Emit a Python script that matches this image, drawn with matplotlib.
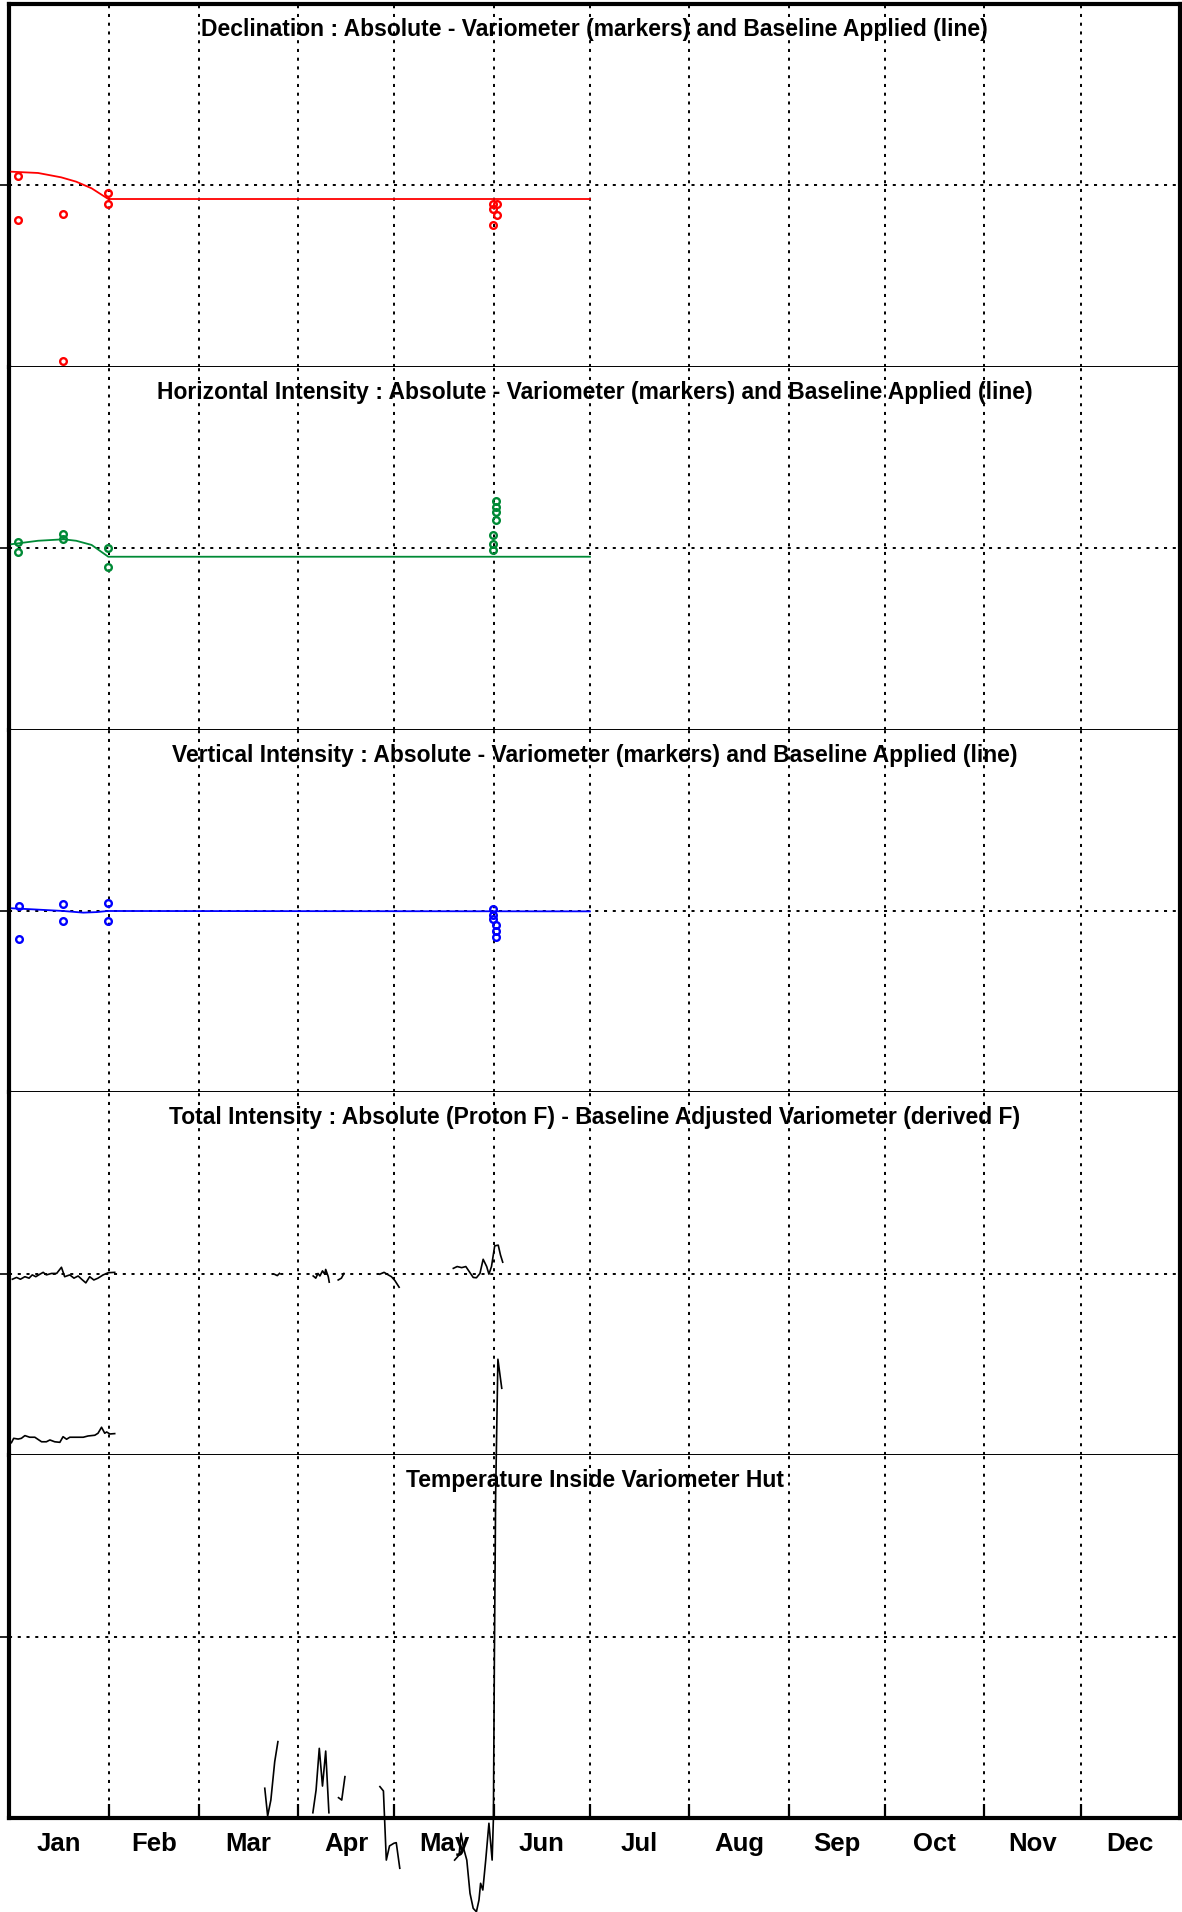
import matplotlib
matplotlib.use("Agg")
import numpy as np
import matplotlib.pyplot as plt

plt.rcParams["font.family"] = ["Liberation Sans", "DejaVu Sans"]
plt.rcParams["lines.scale_dashes"] = False

# ---------------- data (day of year, 0 = 1 Jan) ----------------
month_names = ["Jan", "Feb", "Mar", "Apr", "May", "Jun",
               "Jul", "Aug", "Sep", "Oct", "Nov", "Dec"]
month_starts = [0, 31, 59, 90, 120, 151, 181, 212, 243, 273, 304, 334, 365]

# Declination (arcmin): absolute - variometer, and baseline applied
decl_obs_day = [2.8, 2.8, 16.8, 16.8, 30.8, 30.8, 150.7, 151.9, 150.7, 151.9, 150.7]
decl_obs_val = [0.10, -0.38, -0.32, -1.94, -0.08, -0.20, -0.20, -0.20, -0.26, -0.33, -0.44]
decl_base_day = [0.6, 8.9, 16.1, 20.8, 25.6, 30.8, 181]
decl_base_val = [0.151, 0.137, 0.089, 0.041, -0.032, -0.150, -0.150]

# Horizontal intensity (nT)
hor_obs_day = [2.8, 2.8, 16.8, 16.8, 30.8, 30.8, 151.6, 151.6, 151.6, 151.6, 150.7, 150.7, 150.7]
hor_obs_val = [0.36, -0.19, 0.77, 0.49, 0.03, -1.02, 2.60, 2.26, 2.01, 1.56, 0.73, 0.22, -0.10]
hor_base_day = [0.6, 8.9, 16.8, 20.8, 25.6, 30.8, 181]
hor_base_val = [0.22, 0.41, 0.49, 0.41, 0.18, -0.47, -0.47]

# Vertical intensity (nT)
vert_obs_day = [3.0, 3.0, 16.8, 16.8, 30.6, 30.6, 150.7, 150.7, 150.7, 151.7, 151.7, 151.7]
vert_obs_val = [0.29, -1.56, 0.39, -0.54, 0.46, -0.54, 0.09, -0.22, -0.46, -0.77, -1.09, -1.42]
vert_base_day = [0.7, 7.4, 16.8, 23.0, 27.2, 30.6, 181]
vert_base_val = [0.15, 0.09, 0.0, -0.09, -0.06, 0.0, -0.02]

# Total intensity difference (nT), gaps as separate pieces
f_day = [
    [0.9, 2.2, 3.4, 4.8, 6.1, 7.1, 8.2, 9.5, 10.5, 11.5, 13.1, 14.7, 16.2, 17.2,
     18.8, 20.1, 21.4, 22.5, 23.8, 25.0, 26.3, 27.6, 29.2, 30.8, 32.8],
    [82.8, 83.5, 84.2],
    [94.7, 95.5, 96.2, 96.8, 97.6, 98.3, 98.6, 99.4, 99.7],
    [102.5, 103.5, 104.3],
    [115.5, 116.8, 118.1, 119.1, 120.2, 121.5],
    [138.4, 139.6, 141.0, 142.3, 143.6, 144.6, 145.6, 146.7, 147.7, 148.8,
     149.5, 150.3, 151.3, 152.4, 153.1, 153.8],
]
f_val = [
    [-0.15, -0.10, -0.15, -0.08, -0.12, -0.03, -0.08, -0.01, 0.04, -0.03, 0.01, 0.01,
     0.18, -0.08, -0.03, -0.12, -0.06, -0.15, -0.25, -0.08, -0.17, -0.12, -0.03, 0.03, 0.04],
    [-0.02, -0.05, 0.01],
    [-0.06, -0.12, 0.01, -0.06, 0.08, -0.01, 0.12, -0.08, -0.23],
    [-0.17, -0.12, 0.01],
    [-0.01, 0.04, -0.03, -0.08, -0.19, -0.37],
    [0.15, 0.20, 0.17, 0.20, 0.03, -0.10, -0.11, 0.01, 0.40, 0.20, -0.01, 0.20,
     0.77, 0.79, 0.52, 0.32],
]

# Temperature inside variometer hut (deg C)
t_day = [
    [0.6, 1.3, 2.7, 3.7, 4.8, 6.3, 7.9, 10.0, 11.5, 12.6, 14.1, 15.7, 16.7, 17.8,
     18.8, 20.9, 23.0, 24.5, 26.6, 27.6, 28.7, 29.7, 30.3, 31.3, 32.8],
    [79.6, 80.5, 81.5, 82.7, 83.7],
    [94.6, 95.6, 96.6, 97.6, 98.6, 99.6],
    [102.6, 103.6, 104.6],
    [115.5, 116.6, 117.5, 118.5, 119.9, 120.6, 121.7],
    [138.8, 140.2, 140.8, 141.6, 142.6, 143.6, 144.6, 145.6, 146.4, 146.9, 147.6,
     148.5, 149.5, 150.5, 150.9, 151.2, 151.6, 152.3, 153.5],
]
t_val = [
    [30.69, 30.93, 30.89, 30.93, 31.08, 30.99, 30.99, 30.74, 30.74, 30.84, 30.74, 30.71,
     31.02, 30.88, 30.99, 30.99, 30.99, 31.06, 31.10, 31.21, 31.54, 31.21, 31.28, 31.17, 31.19],
    [11.64, 10.11, 10.99, 13.10, 14.21],
    [10.29, 11.54, 13.84, 11.76, 13.69, 10.29],
    [11.12, 10.99, 12.28],
    [11.73, 11.49, 7.68, 8.46, 8.61, 8.64, 7.23],
    [7.68, 7.96, 9.16, 8.33, 7.68, 5.85, 5.02, 4.83, 5.48, 6.40, 6.03, 7.68, 9.71,
     7.68, 9.98, 18.71, 27.90, 35.29, 33.69],
]

titles = [
    "Declination : Absolute - Variometer (markers) and Baseline Applied (line)",
    "Horizontal Intensity : Absolute - Variometer (markers) and Baseline Applied (line)",
    "Vertical Intensity : Absolute - Variometer (markers) and Baseline Applied (line)",
    "Total Intensity : Absolute (Proton F) - Baseline Adjusted Variometer (derived F)",
    "Temperature Inside Variometer Hut",
]
ylims = [(-2, 2), (-10, 10), (-10, 10), (-5, 5), (10, 30)]

# ---------------- figure ----------------
W, H = 1182, 1912
fig = plt.figure(figsize=(W / 100, H / 100), dpi=100)
left, right = 9.5 / W, 1180 / W
bottom, top = (H - 1818) / H, (H - 4) / H
ph = (top - bottom) / 5
axes = [fig.add_axes([left, top - (i + 1) * ph, right - left, ph]) for i in range(5)]

mid_month = [(month_starts[i] + month_starts[i + 1]) / 2 for i in range(12)]
grid_kw = dict(color="black", linewidth=1.4, linestyle=(0, (2.2, 4.1)))

for i, ax in enumerate(axes):
    ax.set_xlim(0, 365)
    ax.set_ylim(*ylims[i])
    ax.set_xticks(month_starts[1:-1])
    ax.set_xticks(mid_month, minor=True)
    ax.xaxis.grid(True, which="major", **grid_kw)
    yc = sum(ylims[i]) / 2
    ax.set_yticks([yc])
    ax.set_yticklabels([])
    ax.yaxis.grid(True, **grid_kw)
    ax.tick_params(axis="y", direction="out", length=7, width=1.2, left=True, right=False)
    for s in ("left", "right"):
        ax.spines[s].set_linewidth(3)
    ax.spines["top"].set_linewidth(3 if i == 0 else 1.4)
    ax.spines["top"].set_visible(i == 0)
    ax.spines["bottom"].set_linewidth(3 if i == 4 else 1.4)
    if i < 4:
        ax.tick_params(axis="x", which="both", length=0, labelbottom=False)
    else:
        ax.tick_params(axis="x", which="major", direction="in", length=10, width=1.6,
                       labelbottom=False)
        ax.tick_params(axis="x", which="minor", length=0, pad=10, labelsize=18.5)
        ax.set_xticklabels(month_names, minor=True, fontweight="bold")
    ax.text(0.5, 0.912, titles[i], transform=ax.transAxes, ha="center", va="baseline",
            fontsize=16.5, fontweight="bold", zorder=5)

mk = dict(linestyle="none", marker="o", mfc="none", ms=4.8, mew=1.7, clip_on=False, zorder=4)

axes[0].plot(decl_base_day, decl_base_val, color="#ff0000", lw=1.3, clip_on=False, zorder=3)
axes[0].plot(decl_obs_day, decl_obs_val, mec="#ff0000", **mk)

axes[1].plot(hor_base_day, hor_base_val, color="#008a36", lw=1.3, clip_on=False, zorder=3)
axes[1].plot(hor_obs_day, hor_obs_val, mec="#008a36", **mk)

axes[2].plot(vert_base_day, vert_base_val, color="#0000ff", lw=1.3, clip_on=False, zorder=3)
axes[2].plot(vert_obs_day, vert_obs_val, mec="#0000ff", **mk)

for d, v in zip(f_day, f_val):
    axes[3].plot(d, v, color="black", lw=1.2, clip_on=False, zorder=3)

for d, v in zip(t_day, t_val):
    axes[4].plot(d, v, color="black", lw=1.2, clip_on=False, zorder=6)

fig.savefig("out.png", dpi=100)
